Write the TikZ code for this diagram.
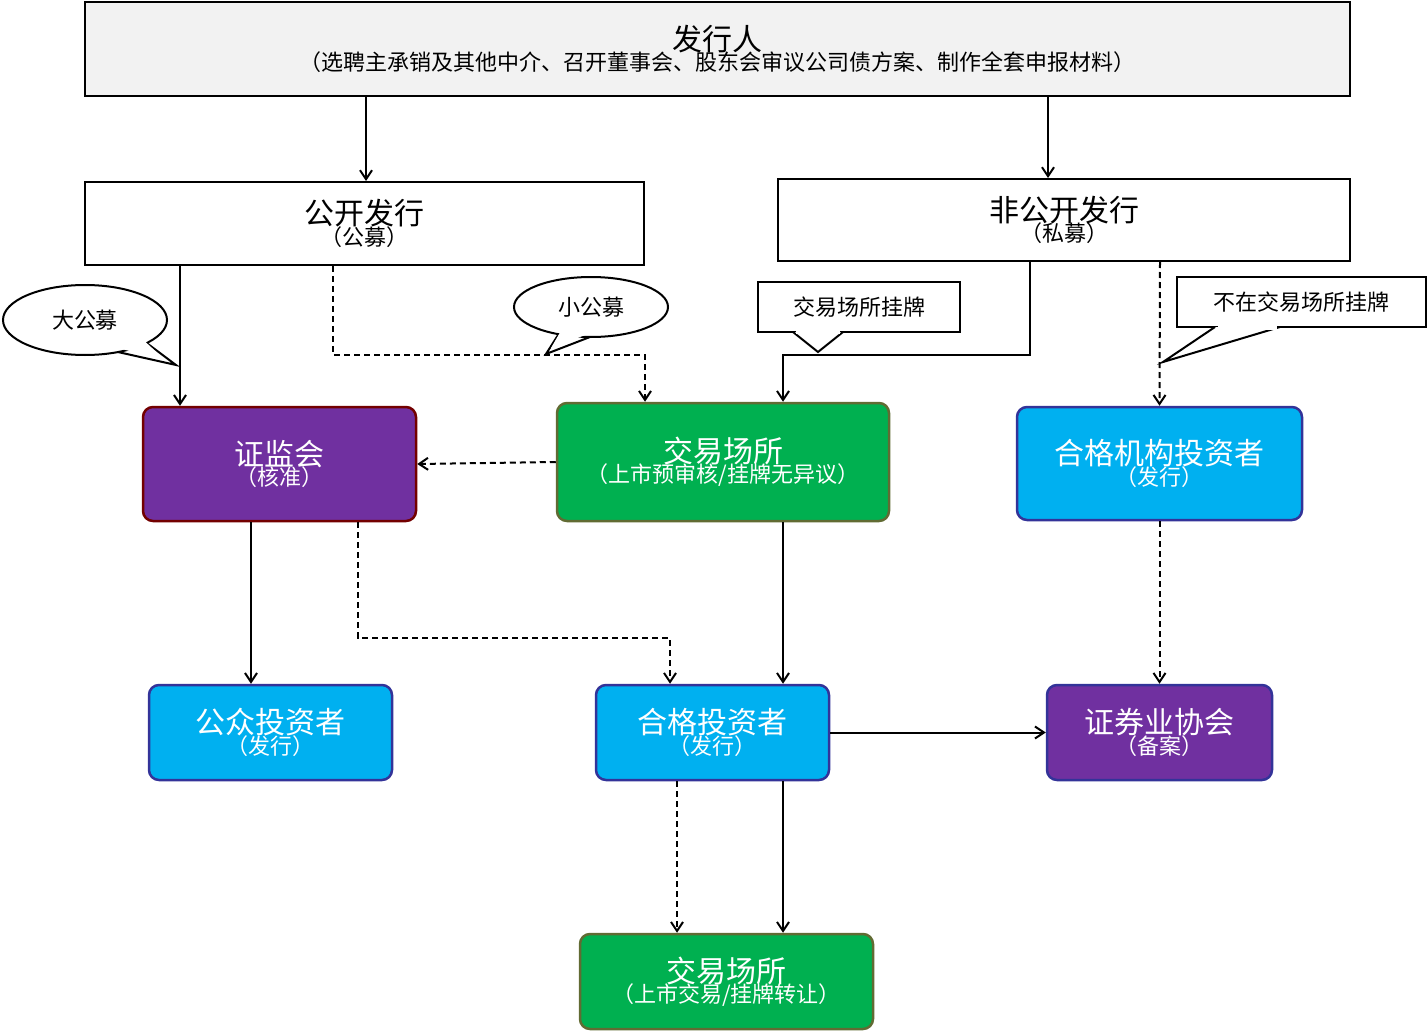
\documentclass[tikz,border=0pt]{standalone}
\usepackage{fontspec}
\setmainfont{Noto Sans CJK SC}
\usetikzlibrary{arrows.meta}
\definecolor{pur}{HTML}{7030A0}
\definecolor{grn}{HTML}{00B050}
\definecolor{cyn}{HTML}{00B0F0}
\definecolor{gry}{HTML}{F2F2F2}
\tikzset{
 box/.style={draw=black,line width=2pt,inner sep=0pt,align=center},
 rbox/.style={rounded corners=10pt,line width=2.5pt,inner sep=0pt,align=center,text=white},
 arr/.style={line width=2pt,-{Straight Barb[length=9pt,width=12pt]}},
 dsh/.style={arr,dash pattern=on 6pt off 4pt},
 ln/.style={line width=2pt},
 big/.style={font=\fontsize{30}{34}\selectfont},
 sm/.style={font=\fontsize{22}{26}\selectfont},
}
\newcommand{\bx}[2]{{\fontsize{30}{34}\selectfont #1}\\[-2pt]{\fontsize{22}{26}\selectfont #2}}
\begin{document}
\begin{tikzpicture}[x=1pt,y=-1pt]
\useasboundingbox (0,0) rectangle (1428,1033);
\node[box,fill=gry,minimum width=1265,minimum height=94] (issuer) at (717.5,49) {\bx{发行人}{（选聘主承销及其他中介、召开董事会、股东会审议公司债方案、制作全套申报材料）}};
\node[box,fill=white,minimum width=559,minimum height=83] (pub) at (364.5,223.5) {\bx{公开发行}{（公募）}};
\node[box,fill=white,minimum width=572,minimum height=82] (priv) at (1064,220) {\bx{非公开发行}{（私募）}};
\node[rbox,fill=pur,draw=red!45!black,minimum width=273,minimum height=114] (csrc) at (279.5,464) {\bx{证监会}{（核准）}};
\node[rbox,fill=grn,draw=olive!70!green!60!black,minimum width=332,minimum height=118] (ex) at (723,462) {\bx{交易场所}{（上市预审核/挂牌无异议）}};
\node[rbox,fill=cyn,draw=blue!50!black!80,minimum width=285,minimum height=113] (qii) at (1159.5,463.5) {\bx{合格机构投资者}{（发行）}};
\node[rbox,fill=cyn,draw=blue!50!black!80,minimum width=243,minimum height=95] (pinv) at (270.5,732.5) {\bx{公众投资者}{（发行）}};
\node[rbox,fill=cyn,draw=blue!50!black!80,minimum width=233,minimum height=95] (qinv) at (712.5,732.5) {\bx{合格投资者}{（发行）}};
\node[rbox,fill=pur,draw=blue!50!black!80,minimum width=225,minimum height=95] (sac) at (1159.5,732.5) {\bx{证券业协会}{（备案）}};
\node[rbox,fill=grn,draw=olive!70!green!60!black,minimum width=293,minimum height=95] (ex2) at (726.5,981.5) {\bx{交易场所}{（上市交易/挂牌转让）}};
% callouts
\draw[ln,fill=white] (100,348) -- (176,365) -- (140,338);
\draw[ln,fill=white] (85,320) ellipse [x radius=82,y radius=35];
\fill[white] (106,345) -- (165,360) -- (138,335) -- cycle;
\node[sm] (c1) at (85,320) {大公募};
\draw[ln,fill=white] (560,332) -- (546,354) -- (590,337);
\draw[ln,fill=white] (591,307) ellipse [x radius=77,y radius=30];
\fill[white] (562,329) -- (551,348) -- (588,334) -- cycle;
\node[sm] (c2) at (591,307) {小公募};
\draw[ln,fill=white] (758,282) rectangle (960,332);
\draw[ln,fill=white] (793,332) -- (818,352) -- (843,332);
\fill[white] (796,329) rectangle (840,334);
\node[sm] (c3) at (859,307) {交易场所挂牌};
\draw[ln,fill=white] (1177,277) rectangle (1426,327);
\draw[ln,fill=white] (1215,327) -- (1163,362) -- (1280,327);
\fill[white] (1218,324) rectangle (1277,330);
\node[sm] (c4) at (1301,302) {不在交易场所挂牌};
% connectors
\draw[arr] (issuer.south -| 366,0) -- (pub.north -| 366,0);
\draw[arr] (issuer.south -| 1048,0) -- (priv.north -| 1048,0);
\draw[arr] (pub.south -| 180,0) -- (csrc.north -| 180,0);
\draw[dsh] (pub.south -| 333,0) -- (333,355) -- (645,355) -- (ex.north -| 645,0);
\draw[arr] (priv.south -| 1030,0) -- (1030,355) -- (783,355) -- (ex.north -| 783,0);
\draw[dsh] (priv.south -| 1160,0) -- (qii.north);
\draw[dsh] (ex.west) -- (csrc.east);
\draw[arr] (csrc.south -| 251,0) -- (pinv.north -| 251,0);
\draw[dsh] (csrc.south -| 358,0) -- (358,638) -- (670,638) -- (qinv.north -| 670,0);
\draw[arr] (ex.south -| 783,0) -- (qinv.north -| 783,0);
\draw[dsh] (qii.south) -- (sac.north);
\draw[arr] (qinv.east) -- (sac.west);
\draw[dsh] (qinv.south -| 677,0) -- (ex2.north -| 677,0);
\draw[arr] (qinv.south -| 783,0) -- (ex2.north -| 783,0);
\end{tikzpicture}
\end{document}
